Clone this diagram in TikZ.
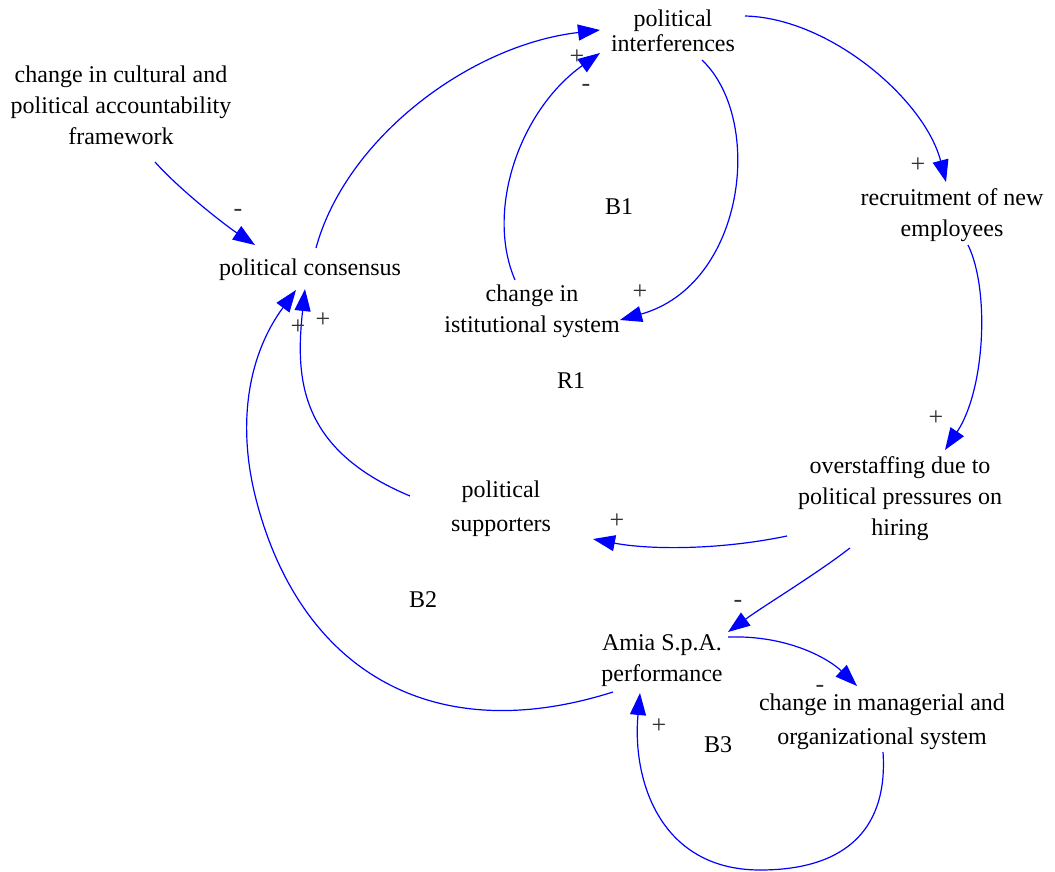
\documentclass[tikz,border=0pt]{standalone}
\usepackage{fontspec}
\setmainfont{Liberation Serif}
\usetikzlibrary{arrows.meta,calc}
\begin{document}
\begin{tikzpicture}[x=1pt,y=-1pt,
  var/.style={align=center,font=\fontsize{24}{31}\selectfont,inner sep=0pt},
  sgn/.style={font=\fontsize{26}{28}\selectfont,text=black!80,inner sep=0pt},
  loopl/.style={font=\fontsize{24}{31}\selectfont,inner sep=0pt},
  link/.style={draw=blue,line width=1.2pt,-{Triangle[length=22pt,width=16pt]}}]
\useasboundingbox (0,0) rectangle (1055,872);

% variables
\node[var] (int)  at (673,31)  {political\\[-6pt]interferences};
\node[var] (cult) at (121,105) {change in cultural and\\political accountability\\framework};
\node[var] (cons) at (310,270) {political consensus};
\node[var] (recr) at (952,215) {recruitment of new\\employees};
\node[var] (inst) at (532,311) {change in\\istitutional system};
\node[var] (over) at (900,499) {overstaffing due to\\political pressures on\\hiring};
\node[var] (supp) at (501,509) {political\\[3pt]supporters};
\node[var] (amia) at (662,661) {Amia S.p.A.\\performance};
\node[var] (mgr)  at (882,722) {change in managerial and\\[3pt]organizational system};

% loop labels
\node[loopl] (b1) at (619,207) {B1};
\node[loopl] (r1) at (571,381) {R1};
\node[loopl] (b2) at (423,600) {B2};
\node[loopl] (b3) at (718,745) {B3};

% links
\draw[link] ($(cons)+(6,-22)$) .. controls (346,138) and (470,45) .. ($(int)+(-73,-1)$);
\draw[link] ($(inst)+(-17,-31)$) .. controls (485,210) and (520,110) .. ($(int)+(-73,22)$);
\draw[link] ($(int)+(29,29)$) .. controls (765,120) and (745,285) .. ($(inst)+(88,9)$);
\draw[link] ($(int)+(72,-15)$) .. controls (830,18) and (925,100) .. ($(recr)+(-6,-33)$);
\draw[link] ($(cult)+(34,57)$) .. controls (180,190) and (225,225) .. ($(cons)+(-55,-25)$);
\draw[link] ($(recr)+(16,30)$) .. controls (990,290) and (985,390) .. ($(over)+(45,-49)$);
\draw[link] ($(over)+(-113,37)$) .. controls (720,550) and (650,550) .. ($(supp)+(92,30)$);
\draw[link] ($(supp)+(-91,-13)$) .. controls (300,450) and (295,380) .. ($(cons)+(-5,19)$);
\draw[link] ($(over)+(-50,49)$) .. controls (815,575) and (765,605) .. ($(amia)+(66,-29)$);
\draw[link] ($(amia)+(-49,31)$) .. controls (430,750) and (301,668) .. (257,503)
   .. controls (236,425) and (248,355) .. ($(cons)+(-14,20)$);
\draw[link] ($(amia)+(66,-24)$) .. controls (790,635) and (830,660) .. ($(mgr)+(-25,-36)$);
\draw[link] ($(mgr)+(1,30)$) .. controls (888,825) and (850,870) .. (760,870)
   .. controls (660,870) and (632,780) .. ($(amia)+(-22,32)$);

% polarities
\node[sgn] (s1)  at (577,57)  {+};
\node[sgn] (s2)  at (586,88)  {-};
\node[sgn] (s3)  at (640,292) {+};
\node[sgn] (s4)  at (918,165) {+};
\node[sgn] (s5)  at (238,213) {-};
\node[sgn] (s6)  at (936,418) {+};
\node[sgn] (s7)  at (617,521) {+};
\node[sgn] (s8)  at (298,327) {+};
\node[sgn] (s9)  at (323,320) {+};
\node[sgn] (s10) at (738,604) {-};
\node[sgn] (s11) at (820,689) {-};
\node[sgn] (s12) at (659,726) {+};
\end{tikzpicture}
\end{document}
